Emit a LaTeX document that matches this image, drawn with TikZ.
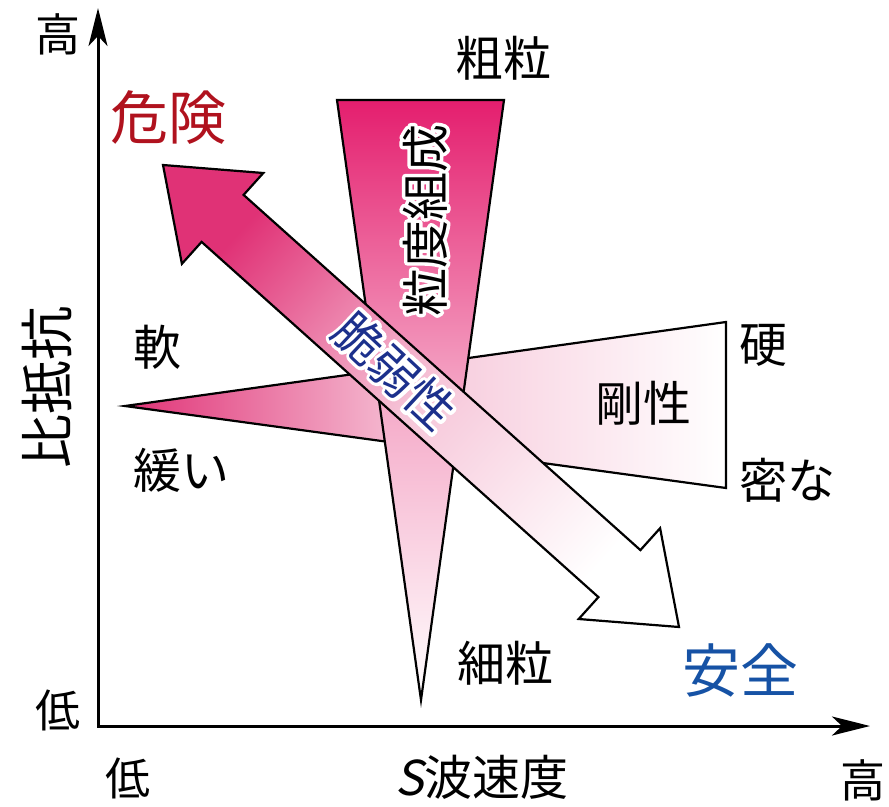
\documentclass[tikz,border=0pt]{standalone}
\usepackage{fontspec}
\setmainfont{Noto Sans CJK JP}
\newfontfamily\slantfont[FakeSlant=0.2]{Noto Sans CJK JP}
\usetikzlibrary{arrows.meta}
\definecolor{pinkA}{RGB}{228,30,110}
\definecolor{pinkB}{RGB}{224,50,118}
\definecolor{redT}{RGB}{176,18,30}
\definecolor{blueT}{RGB}{22,82,165}
\definecolor{navyT}{RGB}{28,48,140}
\tikzset{
  lbl/.style={inner sep=0pt, font=\fontsize{48}{50}\selectfont},
  small/.style={inner sep=0pt, font=\fontsize{45}{48}\selectfont},
  big/.style={inner sep=0pt, font=\fontsize{58}{60}\selectfont},
  outl/.style={draw=black, line width=2.2pt, line join=miter},
  axis/.style={line width=3pt, {Stealth[length=38pt,width=19pt,inset=10pt]}-{Stealth[length=38pt,width=19pt,inset=10pt]}}
}
% text with a white halo: the text is first stroked thickly in white, then set normally
\newcommand\halotext[4]{%
  \node[lbl,#3,text=white] at (#2) {\special{pdf:literal direct 2 Tr 7 w 1 J 1 j}#4\special{pdf:literal direct 0 Tr 1 w}};
  \node[lbl,#3] (#1) at (#2) {#4};%
}
\begin{document}
\begin{tikzpicture}[x=1pt,y=-1pt]
\useasboundingbox (0,0) rectangle (889,806);
% axes
\coordinate (O) at (98,726);
\coordinate (Ytip) at (98,8);
\coordinate (Xtip) at (870,726);
\draw[axis] (Ytip) -- (O) -- (Xtip);
% horizontal wedge (stiffness)
\path[outl, left color=pinkB, right color=white, middle color=pinkB!26]
  (125,406) -- (726,322) -- (726,488) -- cycle;
% vertical triangle (grain size)
\path[outl, top color=pinkA, bottom color=white, middle color=pinkA!38]
  (337,100) -- (504,100) -- (421,700) -- cycle;
% double arrow (brittleness)
\path[outl, top color=pinkB, bottom color=white, middle color=pinkB!28, shading angle=48]
  (163,165) -- (263.3,173.0) -- (243.6,194.9) -- (640.4,550.1) -- (660.1,528.2)
  -- (679,627) -- (578.7,619.0) -- (598.4,597.1) -- (201.6,241.9) -- (181.9,263.8) -- cycle;
% labels
\node[small] (yhi) at (58,34) {高};
\node[small] (ylo) at (58,710) {低};
\node[small] (xlo) at (128,778) {低};
\node[small] (xhi) at (863,780) {高};
\node[lbl] (xlab) at (482,777) {{\slantfont S}波速度};
\node[lbl, font=\fontsize{54}{56}\selectfont, rotate=90] (ylab) at (47,387) {比抵抗};
\node[lbl] (coarse) at (503,58) {粗粒};
\node[big, text=redT] (danger) at (168,118) {危険};
\node[lbl] (soft) at (157,347) {軟};
\node[lbl] (loose) at (181,470) {緩い};
\node[lbl] (hard) at (763,345) {硬};
\node[lbl] (dense) at (787,480) {密な};
\node[lbl] (rigid) at (643,403) {剛性};
\node[lbl] (fine) at (505,663) {細粒};
\node[big, text=blueT] (safe) at (740,670) {安全};
\halotext{grain}{425,220}{rotate=90}{粒度組成}
\halotext{brittle}{395,371}{rotate=-43,text=navyT}{脆弱性}
\end{tikzpicture}
\end{document}
